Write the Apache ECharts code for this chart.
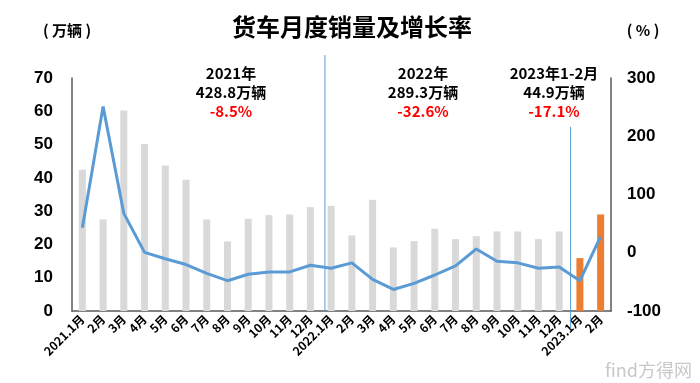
<!DOCTYPE html>
<html><head><meta charset="utf-8">
<script src="https://cdn.jsdelivr.net/npm/echarts@6/dist/echarts.min.js"></script>
<style>html,body{margin:0;padding:0;background:#fff}#c{width:700px;height:383px}</style>
</head><body><div id="c"></div>
<script>
const categories = ['2021.1月','2月','3月','4月','5月','6月','7月','8月','9月','10月','11月','12月',
  '2022.1月','2月','3月','4月','5月','6月','7月','8月','9月','10月','11月','12月','2023.1月','2月'];
const sales = [42.4,27.5,60.2,50.2,43.7,39.4,27.5,20.9,27.7,28.8,29.0,31.2,
  31.6,22.7,33.4,19.1,21.0,24.7,21.6,22.5,23.9,23.9,21.6,23.9,15.9,29.0];
const growth = [42.8,250.9,67.6,0.6,-10.4,-20.2,-35.3,-48.0,-37.0,-32.9,-32.9,-21.4,
  -26.6,-17.3,-45.7,-63.0,-52.6,-38.2,-22.5,6.4,-14.5,-17.3,-26.6,-24.3,-48.0,28.3];
const leftTicks = [0,70,10];
const rightTicks = [-100,300,100];
const annotations = [
  ['2021年','428.8万辆','-8.5%'],
  ['2022年','289.3万辆','-32.6%'],
  ['2023年1-2月','44.9万辆','-17.1%']
];
const FONT = '"Microsoft YaHei","Noto Sans CJK SC",sans-serif';
const chart = echarts.init(document.getElementById('c'));
const annoX = [231, 423, 554];
const graphics = [];
annotations.forEach((a,i)=>{
  [[a[0],73,'#000'],[a[1],92,'#000'],[a[2],111,'#ff0000']].forEach(t=>{
    graphics.push({type:'text',style:{text:t[0],x:annoX[i],y:t[1],fill:t[2],
      font:'bold 15px '+FONT,textAlign:'center',textVerticalAlign:'middle'}});
  });
});
graphics.push({type:'text',style:{text:'货车月度销量及增长率',x:352,y:27,fill:'#000',font:'bold 24px '+FONT,textAlign:'center',textVerticalAlign:'middle'}});
graphics.push({type:'text',style:{text:'( 万辆 )',x:67,y:30,fill:'#000',font:'bold 15px '+FONT,textAlign:'center',textVerticalAlign:'middle'}});
graphics.push({type:'text',style:{text:'( % )',x:643,y:30,fill:'#000',font:'bold 15px '+FONT,textAlign:'center',textVerticalAlign:'middle'}});
graphics.push({type:'text',style:{text:'find方得网',x:692,y:370,fill:'#c8c8c8',font:'18px '+FONT,textAlign:'right',textVerticalAlign:'middle'}});

chart.setOption({
  animation:false,
  grid:{left:72,right:89,top:78,bottom:72},
  graphic:graphics,
  xAxis:{type:'category',data:categories,
    axisLine:{lineStyle:{color:'#595959',width:1.5}},axisTick:{show:false},
    axisLabel:{interval:0,rotate:45,fontSize:12,fontWeight:'bold',color:'#000',fontFamily:FONT,margin:6}},
  yAxis:[
    {type:'value',min:leftTicks[0],max:leftTicks[1],interval:leftTicks[2],splitLine:{show:false},
     axisLine:{show:true,lineStyle:{color:'#595959',width:1.5}},axisTick:{show:false},
     axisLabel:{fontSize:17,fontWeight:'bold',color:'#000',fontFamily:'Arial,"Liberation Sans",sans-serif',margin:19}},
    {type:'value',min:rightTicks[0],max:rightTicks[1],interval:rightTicks[2],splitLine:{show:false},
     axisLine:{show:true,lineStyle:{color:'#595959',width:1.5}},axisTick:{show:false},
     axisLabel:{fontSize:17,fontWeight:'bold',color:'#000',fontFamily:'Arial,"Liberation Sans",sans-serif',margin:16}}
  ],
  series:[
    {type:'custom',xAxisIndex:0,yAxisIndex:0,silent:true,z:1,
     data:[[12,-0.3,76.9,0],[24,-0.45,55.3,-5.4]],
     renderItem:function(params,api){
       const bw = api.size([1,0])[0];
       const top = api.coord([api.value(0),api.value(2)]);
       const bot = api.coord([api.value(0),api.value(3)]);
       const x = top[0] + api.value(1)*bw;
       return {type:'line',shape:{x1:x,y1:top[1],x2:x,y2:bot[1]},style:{stroke:'#5b9bd5',lineWidth:1}};
     }},
    {type:'bar',yAxisIndex:0,data:sales,barWidth:7,z:2,
     itemStyle:{color:function(p){return p.dataIndex>=24?'#ed7d31':'#d9d9d9';}}},
    {type:'line',yAxisIndex:1,data:growth,symbol:'none',z:3,
     lineStyle:{color:'#5b9bd5',width:3}}
  ]
});
</script></body></html>
